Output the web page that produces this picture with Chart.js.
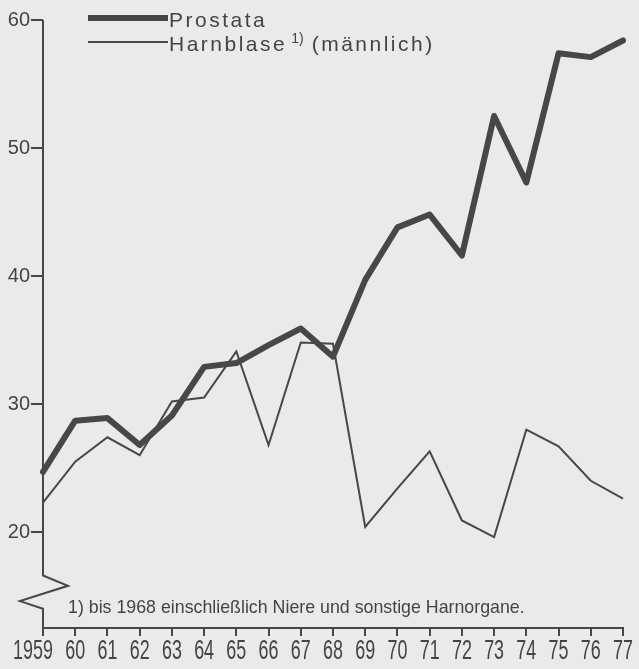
<!DOCTYPE html>
<html>
<head>
<meta charset="utf-8">
<script src="https://cdn.jsdelivr.net/npm/chart.js@4"></script>
<style>
  html, body { margin: 0; padding: 0; background: #eaeaea; }
  #wrap { width: 639px; height: 669px; position: relative; }
</style>
</head>
<body>
<div id="wrap"><canvas id="chart"></canvas></div>
<script>
// Jahre (x-Achse)
const years = ['1959', '60', '61', '62', '63', '64', '65', '66', '67', '68', '69', '70', '71', '72', '73', '74', '75', '76', '77'];

// Werte
const prostata = [24.7, 28.7, 28.9, 26.8, 29.1, 32.9, 33.2, 34.6, 35.9, 33.7, 39.7, 43.8, 44.8, 41.6, 52.5, 47.3, 57.4, 57.1, 58.4];
const harnblase = [22.3, 25.5, 27.4, 26.0, 30.2, 30.5, 34.1, 26.8, 34.8, 34.7, 20.4, 23.4, 26.3, 20.9, 19.6, 28.0, 26.7, 24.0, 22.6];

const yTicks = [20, 30, 40, 50, 60];
const footnote = '1) bis 1968 einschließlich Niere und sonstige Harnorgane.';

const ink = '#474747';

// schmale Jahreszahlen unter der x-Achse
const yearLabels = {
    id: 'yearLabels',
    afterDraw(chart) {
        const ctx = chart.ctx;
        const x = chart.scales.x;
        const top = chart.chartArea.bottom + 9;
        ctx.save();
        ctx.fillStyle = '#444';
        ctx.font = '28px "Liberation Sans", sans-serif';
        ctx.textBaseline = 'top';
        x.ticks.forEach((t, i) => {
            const label = x.getLabelForValue(t.value);
            const px = x.getPixelForTick(i);
            ctx.save();
            ctx.translate(px, top);
            ctx.scale(0.64, 1);
            let tx = 0;
            if (label.length > 2) {
                // "1959": die letzten zwei Ziffern stehen unter dem Strich
                tx = ctx.measureText(label.slice(-2)).width / 2;
                ctx.textAlign = 'right';
            } else {
                ctx.textAlign = 'center';
            }
            ctx.fillText(label, tx, 0);
            ctx.restore();
        });
        ctx.restore();
    }
};

// Legende + Fußnote + y-Achse mit Bruch
const decoPlugin = {
    id: 'deco',
    afterDraw(chart) {
        const ctx = chart.ctx;
        const area = chart.chartArea;
        const y = chart.scales.y;
        ctx.save();
        ctx.strokeStyle = ink;
        ctx.fillStyle = '#444';

        // y-Achse mit Zickzack-Bruch
        const ax = area.left;
        ctx.lineWidth = 2;
        ctx.lineJoin = 'miter';
        ctx.beginPath();
        ctx.moveTo(ax, area.top);
        ctx.lineTo(ax, y.getPixelForValue(16.6));
        ctx.lineTo(ax + 25, y.getPixelForValue(15.8));
        ctx.lineTo(ax - 23, y.getPixelForValue(14.6));
        ctx.lineTo(ax, y.getPixelForValue(14.0));
        ctx.lineTo(ax, area.bottom + 8);
        ctx.stroke();

        // Legende
        const rows = [area.top - 2, area.top + 22];
        ctx.textBaseline = 'middle';
        chart.data.datasets.forEach((ds, i) => {
            const ly = rows[i];
            ctx.lineWidth = ds.borderWidth;
            ctx.lineCap = 'butt';
            ctx.beginPath();
            ctx.moveTo(ax + 45, ly);
            ctx.lineTo(ax + 125, ly);
            ctx.stroke();
            let tx = ax + 126;
            ctx.letterSpacing = '2.5px';
            ctx.font = '21px "Liberation Sans", sans-serif';
            ctx.fillText(ds.label, tx, ly + 3);
            tx += ctx.measureText(ds.label).width;
            if (ds.note) {
                ctx.letterSpacing = '0px';
                ctx.font = '14px "Liberation Sans", sans-serif';
                ctx.fillText(ds.note, tx + 4, ly - 3);
                tx += ctx.measureText(ds.note).width + 12;
                ctx.letterSpacing = '2.5px';
                ctx.font = '21px "Liberation Sans", sans-serif';
                ctx.fillText(ds.suffix, tx, ly + 3);
            }
        });

        // Fußnote
        ctx.letterSpacing = '0px';
        ctx.font = '17.8px "Liberation Sans", sans-serif';
        ctx.textBaseline = 'alphabetic';
        ctx.fillText(footnote, ax + 25, area.bottom - 15);
        ctx.restore();
    }
};

const ctx = document.getElementById('chart').getContext('2d');
new Chart(ctx, {
    type: 'line',
    data: {
        labels: years,
        datasets: [{
            label: 'Prostata',
            data: prostata,
            borderColor: ink,
            borderWidth: 6,
            pointRadius: 0,
            tension: 0,
            borderJoinStyle: 'round',
            borderCapStyle: 'round'
        }, {
            label: 'Harnblase',
            note: '1)',
            suffix: '(männlich)',
            data: harnblase,
            borderColor: ink,
            borderWidth: 2,
            pointRadius: 0,
            tension: 0,
            borderJoinStyle: 'miter'
        }]
    },
    options: {
        responsive: true,
        maintainAspectRatio: false,
        animation: false,
        layout: { padding: { top: 20, right: 16, left: 0, bottom: 0 } },
        plugins: {
            legend: { display: false },
            tooltip: { enabled: false }
        },
        scales: {
            x: {
                offset: false,
                grid: { drawOnChartArea: false, drawTicks: true, tickLength: 8, lineWidth: 2, color: ink },
                border: { display: true, color: ink, width: 2 },
                ticks: { display: false, autoSkip: false, maxRotation: 0 },
                afterFit(scale) { scale.height = 41; }
            },
            y: {
                min: 12.5,
                max: 60,
                afterBuildTicks(scale) { scale.ticks = yTicks.map(v => ({ value: v })); },
                grid: { drawOnChartArea: false, drawTicks: true, tickLength: 12, lineWidth: 2, color: ink },
                border: { display: false },
                ticks: {
                    color: '#444',
                    padding: 1,
                    font: { family: '"Liberation Sans", sans-serif', size: 20 }
                },
                afterFit(scale) { scale.width = 43; }
            }
        }
    },
    plugins: [decoPlugin, yearLabels]
});
</script>
</body>
</html>
